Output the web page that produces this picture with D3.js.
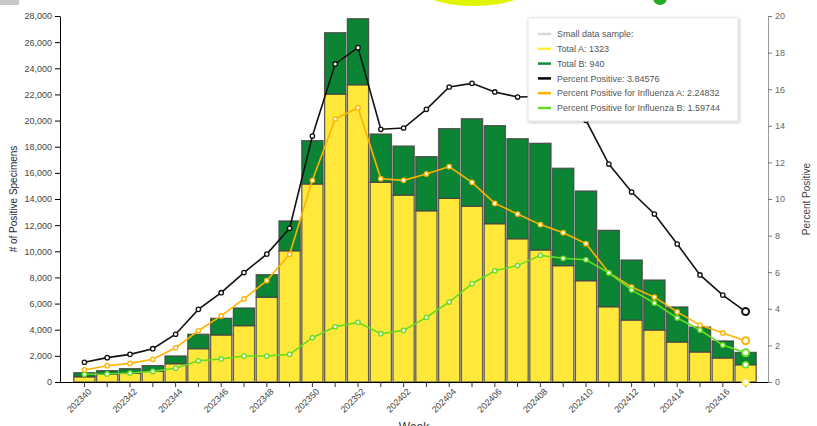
<!DOCTYPE html>
<html>
<head>
<meta charset="utf-8">
<script src="https://cdn.jsdelivr.net/npm/d3@7"></script>
<style>
  body { margin: 0; background: #fff; font-family: "Liberation Sans", Arial, sans-serif; }
  svg { display: block; }
</style>
</head>
<body>
<script>
//Data
var weeks = ["202340","202341","202342","202343","202344","202345","202346","202347","202348","202349",
             "202350","202351","202352","202401","202402","202403","202404","202405","202406","202407",
             "202408","202409","202410","202411","202412","202413","202414","202415","202416","202417"];
var totalA = [400, 590, 665, 820, 1400, 2550, 3600, 4310, 6480, 10040,
              15150, 22030, 22740, 15280, 14300, 13100, 14050, 13450, 12110, 10960,
              10100, 8900, 7750, 5760, 4740, 3980, 3060, 2300, 1840, 1323];
var totalB = [310, 275, 355, 430, 590, 1100, 1270, 1350, 1730, 2280,
              3310, 4690, 5050, 3690, 3750, 4140, 5330, 6690, 7500, 7650,
              8160, 7450, 6860, 5840, 4590, 3820, 2680, 1900, 1300, 940];
var pctPos = [1.08, 1.33, 1.51, 1.82, 2.61, 3.97, 4.88, 5.98, 6.99, 8.4,
              13.44, 17.38, 18.27, 13.81, 13.88, 14.9, 16.12, 16.32, 15.85, 15.57,
              15.6, 15.2, 14.3, 11.91, 10.38, 9.18, 7.54, 5.85, 4.75, 3.84576];
var pctA = [0.66, 0.89, 1.02, 1.24, 1.87, 2.8, 3.61, 4.54, 5.54, 6.98,
            11.02, 14.37, 14.99, 11.11, 11.02, 11.37, 11.77, 10.91, 9.76, 9.18,
            8.6, 8.16, 7.56, 5.97, 5.19, 4.64, 3.83, 3.11, 2.68, 2.24832];
var pctB = [0.42, 0.44, 0.49, 0.58, 0.75, 1.16, 1.26, 1.42, 1.42, 1.51,
            2.42, 3.02, 3.26, 2.64, 2.82, 3.53, 4.37, 5.37, 6.08, 6.36,
            6.92, 6.76, 6.68, 5.97, 5.03, 4.32, 3.5, 2.84, 2.02, 1.59744];
var leftTicks = d3.range(0, 28001, 2000);
var rightTicks = d3.range(0, 21, 2);
var legendItems = [
  {label: "Small data sample:", color: "#d9d9d9"},
  {label: "Total A:  1323", color: "#ffeb3b"},
  {label: "Total B:  940", color: "#118a3b"},
  {label: "Percent Positive:  3.84576", color: "#000"},
  {label: "Percent Positive for Influenza A:  2.24832", color: "#ffb300"},
  {label: "Percent Positive for Influenza B:  1.59744", color: "#66dd22"}
];

//Define Margin
var W = 817, H = 426;
var margin = {left: 60, right: 49, top: 16, bottom: 44};
var plotRight = W - margin.right, plotBottom = H - margin.bottom;

var svg = d3.select("body").append("svg")
    .attr("width", W)
    .attr("height", H);

//Page artifacts at top edge
svg.append("rect").attr("x", 0).attr("y", 0).attr("width", 19).attr("height", 5).attr("fill", "#c8c8c8");
svg.append("ellipse").attr("cx", 474).attr("cy", -18).attr("rx", 62).attr("ry", 24).attr("fill", "#e2f500");
svg.append("ellipse").attr("cx", 660).attr("cy", -2).attr("rx", 7).attr("ry", 7).attr("fill", "#22aa22");

//Scales
var x = d3.scaleBand()
    .domain(weeks)
    .range([73, 757])
    .paddingInner(0.07)
    .paddingOuter(0.035);

var yLeft = d3.scaleLinear().domain([0, 28000]).range([plotBottom, margin.top]);
var yRight = d3.scaleLinear().domain([0, 20]).range([plotBottom, margin.top]);

//Stacked bars
var stackData = weeks.map(function(w, i) { return {week: w, a: totalA[i], b: totalB[i]}; });
var series = d3.stack().keys(["a", "b"])(stackData);
var barColors = {a: "#ffe83a", b: "#0b8533"};

svg.append("g").selectAll("g")
  .data(series)
  .enter().append("g")
    .attr("fill", function(d) { return barColors[d.key]; })
  .selectAll("rect")
  .data(function(d) { return d; })
  .enter().append("rect")
    .attr("x", function(d) { return x(d.data.week); })
    .attr("y", function(d) { return yLeft(d[1]); })
    .attr("width", x.bandwidth())
    .attr("height", function(d) { return yLeft(d[0]) - yLeft(d[1]); })
    .attr("stroke", "#444")
    .attr("stroke-opacity", 0.85)
    .attr("stroke-width", 1.3);

//Axes
var xAxis = svg.append("g")
    .attr("transform", "translate(0," + plotBottom + ")")
    .call(d3.axisBottom(x).tickSize(5).tickFormat(function(d, i) { return i % 2 === 0 ? d : ""; }));
xAxis.select(".domain").attr("d", "M" + margin.left + ",0.5H" + plotRight).attr("stroke", "#000");
xAxis.selectAll(".tick line").attr("stroke", "#333");
xAxis.selectAll("text")
    .attr("font-size", 9)
    .attr("fill", "#444")
    .attr("text-anchor", "end")
    .attr("dx", "-0.2em")
    .attr("dy", "0.5em")
    .attr("transform", "rotate(-45)");

var leftAxis = svg.append("g")
    .attr("transform", "translate(" + margin.left + ",0)")
    .call(d3.axisLeft(yLeft).tickValues(leftTicks).tickFormat(d3.format(",")).tickSize(5).tickSizeOuter(0));
leftAxis.selectAll("text").attr("font-size", 9).attr("fill", "#444");
leftAxis.select(".domain").attr("stroke", "#000");

var rightAxis = svg.append("g")
    .attr("transform", "translate(" + plotRight + ",0)")
    .call(d3.axisRight(yRight).tickValues(rightTicks).tickSize(4).tickSizeOuter(0));
rightAxis.selectAll("text").attr("font-size", 9).attr("fill", "#666");
rightAxis.select(".domain").attr("stroke", "#999");
rightAxis.selectAll(".tick line").attr("stroke", "#777");

//Axis titles
svg.append("text")
    .attr("transform", "translate(17," + ((margin.top + plotBottom) / 2) + ") rotate(-90)")
    .attr("text-anchor", "middle")
    .attr("font-size", 10)
    .attr("fill", "#1d2a44")
    .text("# of Positive Specimens");
svg.append("text")
    .attr("transform", "translate(810," + ((margin.top + plotBottom) / 2) + ") rotate(-90)")
    .attr("text-anchor", "middle")
    .attr("font-size", 10)
    .attr("fill", "#444")
    .text("Percent Positive");
svg.append("text")
    .attr("x", (margin.left + plotRight) / 2)
    .attr("y", 431)
    .attr("text-anchor", "middle")
    .attr("font-size", 12)
    .attr("fill", "#333")
    .text("Week");

//Lines
var lines = [
  {values: pctPos, color: "#111"},
  {values: pctA, color: "#ffb300"},
  {values: pctB, color: "#66dd22"}
];
var lineGen = d3.line()
    .x(function(d, i) { return x(weeks[i]) + x.bandwidth() / 2; })
    .y(function(d) { return yRight(d); });

lines.forEach(function(s) {
  var g = svg.append("g");
  g.append("path")
    .datum(s.values)
    .attr("fill", "none")
    .attr("stroke", s.color)
    .attr("stroke-width", 1.6)
    .attr("d", lineGen);
  g.selectAll("circle")
    .data(s.values)
    .enter().append("circle")
    .attr("cx", function(d, i) { return x(weeks[i]) + x.bandwidth() / 2; })
    .attr("cy", function(d) { return yRight(d); })
    .attr("r", function(d, i) { return i === weeks.length - 1 ? 3.5 : 2.2; })
    .attr("fill", "#fff")
    .attr("stroke", s.color)
    .attr("stroke-width", function(d, i) { return i === weeks.length - 1 ? 2 : 1.3; });
});

//Hover markers on last week's bars
var lastX = x(weeks[weeks.length - 1]) + x.bandwidth() / 2;
svg.append("circle").attr("cx", lastX).attr("cy", yLeft(totalA[totalA.length - 1]))
    .attr("r", 3).attr("fill", "#fff").attr("stroke", "#66dd22").attr("stroke-width", 1.5);
svg.append("circle").attr("cx", lastX).attr("cy", yLeft(0))
    .attr("r", 3.5).attr("fill", "#fff").attr("stroke", "#ffe83a").attr("stroke-width", 1.5);

//Legend
var legend = svg.append("g").attr("transform", "translate(528,18)");
var defs = svg.append("defs");
var filter = defs.append("filter").attr("id", "shadow").attr("x", "-10%").attr("y", "-10%").attr("width", "130%").attr("height", "130%");
filter.append("feDropShadow").attr("dx", 1).attr("dy", 1).attr("stdDeviation", 1.5).attr("flood-color", "#000").attr("flood-opacity", 0.25);
legend.append("rect")
    .attr("width", 210)
    .attr("height", 103)
    .attr("fill", "#fff")
    .attr("stroke", "#e4e4e4")
    .attr("filter", "url(#shadow)");
var rows = legend.selectAll("g.row")
  .data(legendItems)
  .enter().append("g")
    .attr("class", "row")
    .attr("transform", function(d, i) { return "translate(10," + (16 + i * 14.8) + ")"; });
rows.append("line")
    .attr("x1", 0).attr("x2", 13)
    .attr("stroke", function(d) { return d.color; })
    .attr("stroke-width", 2.5);
rows.append("text")
    .attr("x", 19)
    .attr("dy", "0.35em")
    .attr("font-size", 9)
    .attr("fill", "#555")
    .text(function(d) { return d.label; });
</script>
</body>
</html>
